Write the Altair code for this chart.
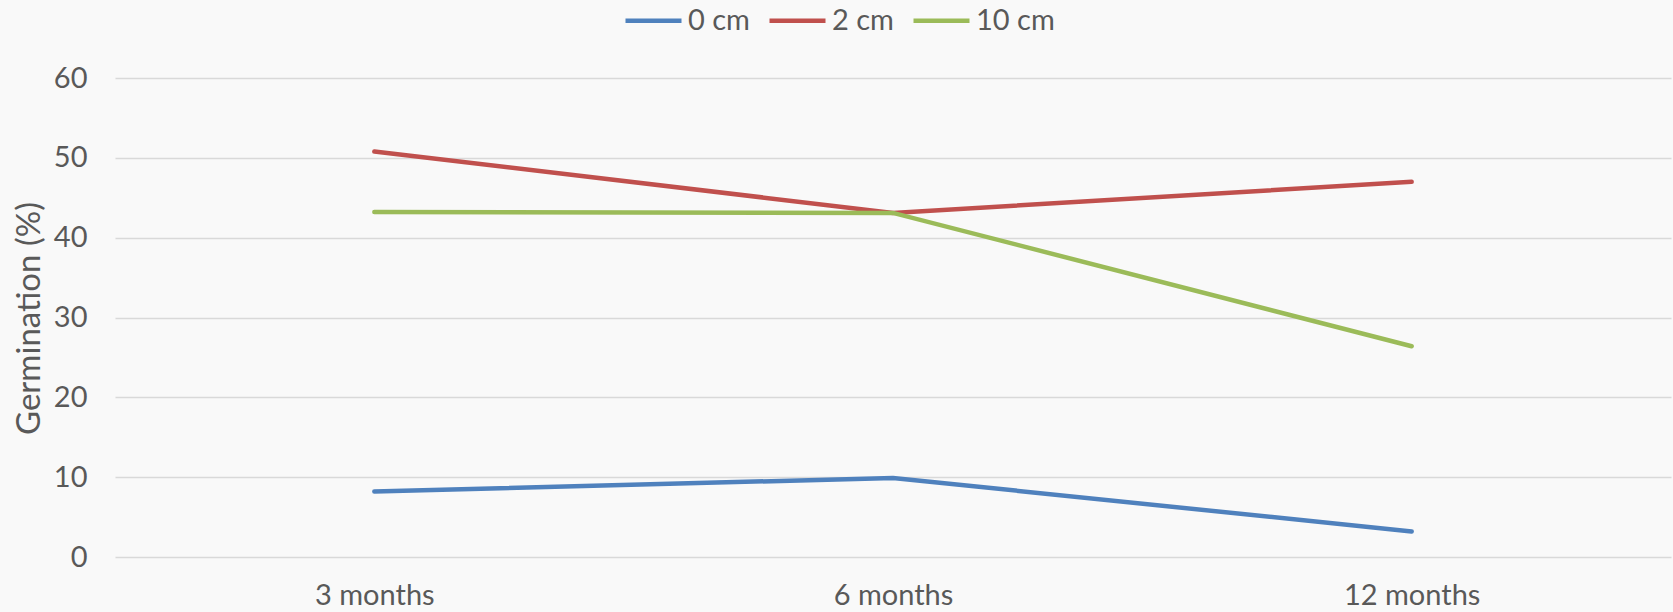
import altair as alt
import pandas as pd

periods = ["3 months", "6 months", "12 months"]
series_names = ["0 cm", "2 cm", "10 cm"]
vals_0cm = [8.2, 9.9, 3.2]
vals_2cm = [50.8, 43.1, 47.0]
vals_10cm = [43.2, 43.1, 26.4]
colors = ["#4f81bd", "#c0504d", "#9bbb59"]

rows = []
for name, vals in zip(series_names, [vals_0cm, vals_2cm, vals_10cm]):
    for p, v in zip(periods, vals):
        rows.append({"Period": p, "Series": name, "Value": v})
df = pd.DataFrame(rows)

FONT = "Lato"
GRAY = "#595959"
FS = 29

chart = alt.Chart(df).mark_line(strokeWidth=4.5, strokeCap="round").encode(
    x=alt.X("Period:N", sort=periods,
            scale=alt.Scale(type="point", padding=0.5),
            axis=alt.Axis(title=None, labelAngle=0, domain=False, ticks=False,
                          labelPadding=24, labelFontSize=FS, labelFont=FONT,
                          labelColor=GRAY, grid=False)),
    y=alt.Y("Value:Q", scale=alt.Scale(domain=[0, 60], nice=False),
            axis=alt.Axis(title="Germination (%)", values=[0, 10, 20, 30, 40, 50, 60],
                          domain=False, ticks=False, labelPadding=28,
                          labelFontSize=FS, labelFont=FONT, labelColor=GRAY,
                          gridColor="#d9d9d9", gridWidth=1.5,
                          titleFontSize=33, titleFont=FONT, titleColor=GRAY,
                          titleFontWeight="normal", titleX=-86, titleY=240,
                          titleAngle=270, titleAlign="center", titleBaseline="middle")),
    color=alt.Color("Series:N", sort=series_names,
                    scale=alt.Scale(domain=series_names, range=colors),
                    legend=alt.Legend(title=None, orient="none", direction="horizontal",
                                      legendX=508, legendY=-88, symbolType="stroke",
                                      symbolSize=3136, symbolStrokeWidth=4.5,
                                      labelFontSize=FS, labelFont=FONT, labelColor=GRAY,
                                      labelOffset=4, columnPadding=10)),
).properties(
    width=1556, height=479,
    background="#f9f9f9",
    padding={"left": 115, "top": 78, "right": 2, "bottom": 55},
    autosize=alt.AutoSizeParams(type="none"),
).configure_view(stroke=None)

chart.save("out.html", embed_options={"renderer": "svg", "actions": False})
